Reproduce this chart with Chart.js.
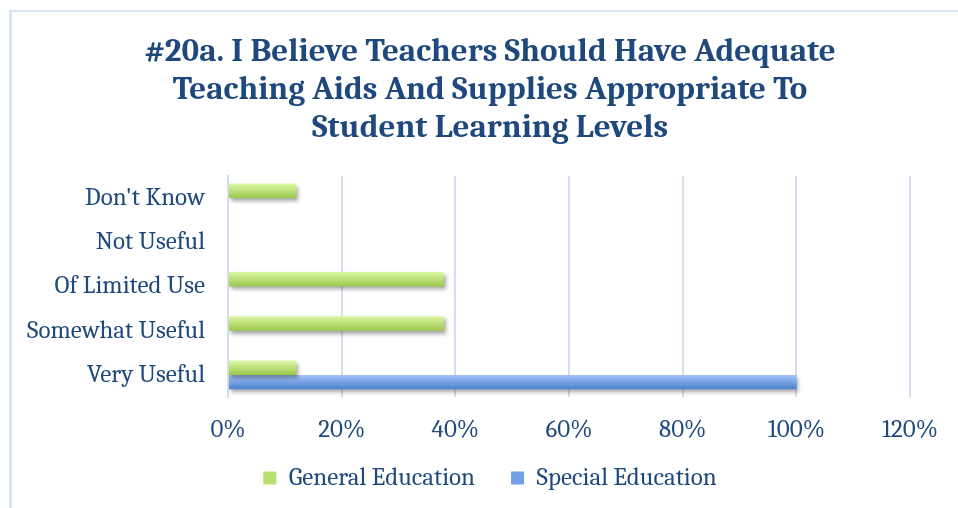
<!DOCTYPE html>
<html>
<head>
<meta charset="utf-8">
<script src="https://cdn.jsdelivr.net/npm/chart.js@4"></script>
<style>
  html, body { margin: 0; padding: 0; background: #ffffff; overflow: hidden; width: 958px; height: 508px; }
  #wrap { position: absolute; left: 9px; top: 10px; width: 961px; height: 498px;
          border-left: 3px solid #d9e4f5; border-top: 2px solid #d9e4f5; background: #fff; }
  canvas { display: block; }
</style>
</head>
<body>
<div id="wrap"><canvas id="c" width="958" height="496"></canvas></div>
<script>
const titleLines = ["#20a. I Believe Teachers Should Have Adequate", "Teaching Aids And Supplies Appropriate To", "Student Learning Levels"];
const categories = ["Don't Know", "Not Useful", "Of Limited Use", "Somewhat Useful", "Very Useful"];
const generalEducation = [12, 0, 38, 38, 12];
const specialEducation = [0, 0, 0, 0, 100];
const seriesNames = ["General Education", "Special Education"];
const xTickMax = 120;
const xTickStep = 20;

const TEXT = '#1f497d';
const SERIF = 'Cambria, Caladea, "DejaVu Serif Condensed", "Liberation Serif", serif';
const CAT_PCT = 0.65;
const LEGEND_GAP = 36;      // horizontal spacing between legend items
const LEGEND_TOP_PAD = 2.5; // vertical offset of legend row inside its box

const palettes = [
  { top: '#dcf7a4', bottom: '#9cc84c', solid: '#b8e070' },
  { top: '#a4c4f7', bottom: '#4a80cf', solid: '#72a0e4' }
];

function barFill(c) {
  const p = palettes[c.datasetIndex];
  const chart = c.chart;
  const ys = chart.scales && chart.scales.y;
  if (c.type !== 'data' || !ys || !ys.height) return p.solid;
  const center = ys.getPixelForValue(c.dataIndex);
  const cat = ys.height / categories.length;
  const group = cat * CAT_PCT;
  const barH = group / 2;
  const top = center - group / 2 + c.datasetIndex * barH;
  const g = chart.ctx.createLinearGradient(0, top, 0, top + barH);
  g.addColorStop(0, p.top);
  g.addColorStop(1, p.bottom);
  return g;
}

function legendFill(i) {
  return palettes[i].solid;
}

const shadowPlugin = {
  id: 'barShadow',
  beforeDatasetsDraw(chart) {
    const ctx = chart.ctx;
    ctx.save();
    ctx.shadowColor = 'rgba(0,0,0,0.35)';
    ctx.shadowBlur = 4;
    ctx.shadowOffsetX = 2;
    ctx.shadowOffsetY = 3;
  },
  afterDatasetsDraw(chart) {
    chart.ctx.restore();
  }
};

// keep wide horizontal spacing between legend items while keeping the row close to its box top
const legendRowPlugin = {
  id: 'legendRow',
  afterLayout(chart) {
    const lg = chart.legend;
    if (!lg) return;
    lg.top -= (LEGEND_GAP - LEGEND_TOP_PAD);
  }
};

new Chart(document.getElementById('c'), {
  type: 'bar',
  data: {
    labels: categories,
    datasets: [
      { label: seriesNames[0], data: generalEducation, backgroundColor: barFill, borderWidth: 0 },
      { label: seriesNames[1], data: specialEducation, backgroundColor: barFill, borderWidth: 0 }
    ]
  },
  plugins: [shadowPlugin, legendRowPlugin],
  options: {
    indexAxis: 'y',
    responsive: false,
    animation: false,
    devicePixelRatio: 1,
    categoryPercentage: CAT_PCT,
    barPercentage: 1.0,
    layout: { padding: { left: 14, right: 16, top: 0, bottom: 6 } },
    scales: {
      x: {
        min: 0,
        max: xTickMax,
        afterFit(s) { s.paddingRight = 60; },
        ticks: {
          stepSize: xTickStep,
          color: TEXT,
          font: { family: SERIF, size: 25 },
          padding: 18,
          callback: v => v + '%'
        },
        grid: { color: '#d3dff0', lineWidth: 2, drawTicks: false },
        border: { display: false }
      },
      y: {
        afterFit(s) { s.width = 202; },
        ticks: {
          color: TEXT,
          font: { family: SERIF, size: 25 },
          padding: 23
        },
        grid: { display: false, drawTicks: false },
        border: { display: true, color: '#d3dff0', width: 2 }
      }
    },
    plugins: {
      title: {
        display: true,
        text: titleLines,
        color: TEXT,
        font: { family: SERIF, size: 33, weight: 'bold', lineHeight: 1.15 },
        padding: { top: 21, bottom: 29 }
      },
      legend: {
        position: 'bottom',
        maxHeight: 39,
        labels: {
          color: TEXT,
          font: { family: SERIF, size: 25 },
          boxWidth: 13,
          boxHeight: 13,
          padding: LEGEND_GAP,
          generateLabels(chart) {
            return chart.data.datasets.map((ds, i) => ({
              text: ds.label,
              fillStyle: legendFill(i),
              strokeStyle: legendFill(i),
              lineWidth: 0,
              fontColor: TEXT,
              hidden: false,
              datasetIndex: i
            }));
          }
        }
      },
      tooltip: { enabled: false }
    }
  }
});
</script>
</body>
</html>
